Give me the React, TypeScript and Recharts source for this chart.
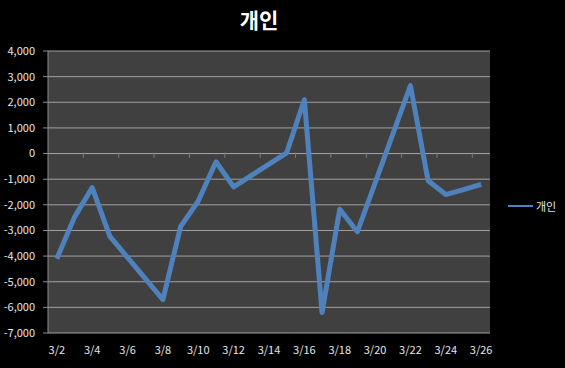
import React from 'react';
import { LineChart, Line, XAxis, YAxis, CartesianGrid, ReferenceLine } from 'recharts';

const dates = ["3/2", "3/3", "3/4", "3/5", "3/8", "3/9", "3/10", "3/11", "3/12", "3/15", "3/16", "3/17", "3/18", "3/19", "3/22", "3/23", "3/24", "3/25", "3/26"];
const individual = [-4100, -2480, -1330, -3230, -5700, -2850, -1850, -320, -1300, 30, 2100, -6200, -2170, -3050, 2650, -1060, -1600, -1410, -1200];
const xTickLabels = ["3/2", "3/4", "3/6", "3/8", "3/10", "3/12", "3/14", "3/16", "3/18", "3/20", "3/22", "3/24", "3/26"];
const yTicks = [-7000, -6000, -5000, -4000, -3000, -2000, -1000, 0, 1000, 2000, 3000, 4000];
const seriesName = "개인";
const title = "개인";

const dayIndex = (d: string) => parseInt(d.split('/')[1], 10) - 2;

const data = dates.map((d, i) => ({ x: dayIndex(d), v: individual[i] }));
const xTicks = xTickLabels.map(dayIndex);
const boundaryTicks = xTicks.slice(0, -1).map((t) => t + 1.5);

const FONT = '"Noto Sans CJK KR", "Noto Sans", sans-serif';
const GRID = '#a0a0a0';

export default function App() {
  return (
    <div style={{ position: 'absolute', left: 0, top: 0, width: 565, height: 368, background: '#000', overflow: 'hidden' }}>
      <LineChart width={565} height={368} data={data} margin={{ top: 51, right: 75, bottom: 0, left: 0 }}>
        <CartesianGrid vertical={false} stroke={GRID} fill="#404040" />
        <XAxis
          dataKey="x"
          type="number"
          domain={[-0.5, 24.5]}
          ticks={xTicks}
          interval={0}
          tickFormatter={(v: number) => xTickLabels[xTicks.indexOf(v)] ?? ''}
          axisLine={false}
          tickLine={false}
          tickSize={0}
          tickMargin={13}
          height={35}
          tick={{ fill: '#e6e6e6', fontSize: 11, fontFamily: FONT }}
        />
        <YAxis
          type="number"
          domain={[-7000, 4000]}
          ticks={yTicks}
          interval={0}
          width={48}
          tickFormatter={(v: number) => v.toLocaleString('en-US')}
          axisLine={{ stroke: '#8c8c8c' }}
          tickLine={{ stroke: '#8c8c8c' }}
          tickSize={5}
          tickMargin={8}
          tick={{ fill: '#e6e6e6', fontSize: 11, fontFamily: FONT }}
        />
        <ReferenceLine y={0} stroke={GRID} ifOverflow="extendDomain" />
        {boundaryTicks.map((b) => (
          <ReferenceLine
            key={b}
            segment={[{ x: b, y: -170 }, { x: b, y: 40 }]}
            stroke="#7a7a7a"
          />
        ))}
        <Line
          type="linear"
          dataKey="v"
          name={seriesName}
          stroke="#4F81BD"
          strokeWidth={5}
          strokeLinejoin="round"
          dot={false}
          activeDot={false}
          isAnimationActive={false}
        />
      </LineChart>
      <div style={{ position: 'absolute', left: 0, top: 4, width: 518, textAlign: 'center', color: '#fff', fontFamily: FONT, fontWeight: 'bold', fontSize: 21, lineHeight: '30px' }}>
        {title}
      </div>
      <div style={{ position: 'absolute', left: 508, top: 198, display: 'flex', alignItems: 'center', fontFamily: FONT, fontSize: 11, color: '#e6e6e6' }}>
        <div style={{ width: 25, height: 2, background: '#4F81BD', marginRight: 3 }} />
        <span>{seriesName}</span>
      </div>
    </div>
  );
}
